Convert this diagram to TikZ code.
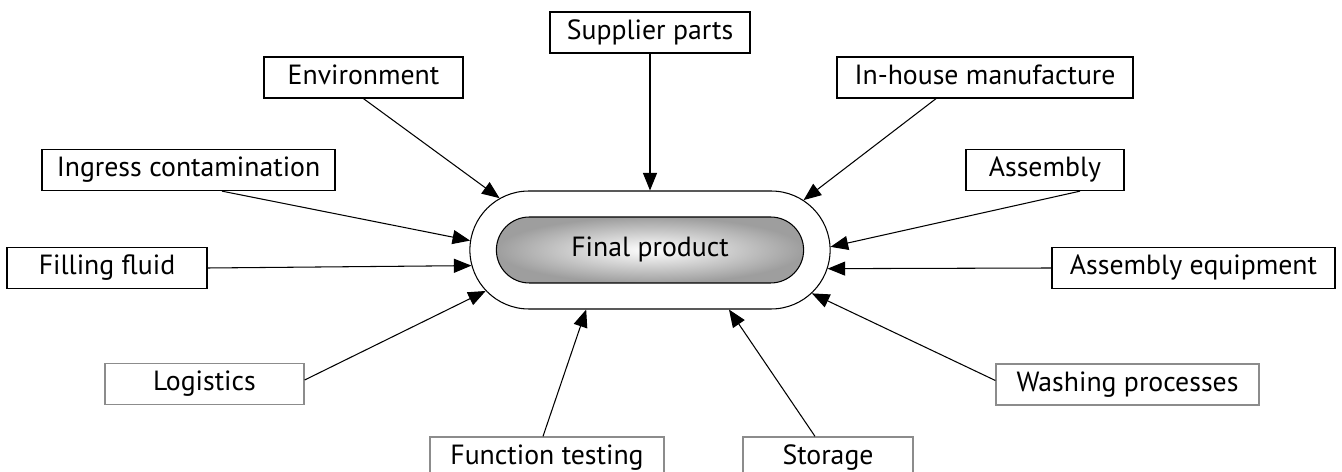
\documentclass[tikz,border=0pt]{standalone}
\usepackage{fontspec}
\newfontfamily\labelfont{PT Sans}
\usetikzlibrary{arrows.meta}
\usetikzlibrary{calc, shapes.misc}
\definecolor{framegray}{RGB}{140,140,140}

\tikzset{
  box/.style={draw, line width=0.75pt, inner sep=0pt, minimum height=0.82cm,
    text height=0.88em, text depth=0.12em,
    font=\labelfont\fontsize{15.8}{18}\selectfont},
  softbox/.style={box, draw=framegray},
  feed/.style={-{Triangle[length=10pt,width=8pt]}, line width=0.6pt},
}

\begin{document}
\begin{tikzpicture}[x=0.02cm, y=-0.02cm]

\useasboundingbox (0,0) rectangle (1342,472);

%product in the middle
\node[rounded rectangle, draw, line width=0.6pt, minimum width=7.44cm, minimum height=2.36cm] (ring) at (650,250) {};
\node[rounded rectangle, draw, line width=0.6pt, inner color=white, outer color=black!38,
  minimum width=6.38cm, minimum height=1.32cm, text height=0.88em, text depth=0.12em,
  font=\labelfont\fontsize{15.8}{18}\selectfont] (prod) at (650,250) {Final product};

%sources:
\node[box, minimum width=4.00cm] (sup) at (650,32.5) {Supplier parts};
\node[box, minimum width=3.98cm] (env) at (363.5,77.5) {Environment};
\node[box, minimum width=5.92cm] (inh) at (985,77.5) {In-house manufacture};
\node[box, minimum width=5.86cm] (ing) at (188.5,170) {Ingress contamination};
\node[box, minimum width=3.16cm] (asm) at (1045,170) {Assembly};
\node[box, minimum width=4.00cm] (fill) at (107,268) {Filling fluid};
\node[box, minimum width=5.66cm] (asmeq) at (1193.5,268) {Assembly equipment};
\node[softbox, minimum width=3.98cm] (log) at (204.5,384) {Logistics};
\node[softbox, minimum width=5.26cm] (wash) at (1127.5,384.5) {Washing processes};
\node[softbox, minimum width=4.68cm] (func) at (547,457.5) {Function testing};
\node[softbox, minimum width=3.40cm] (stor) at (828,457.5) {Storage};

%arrows onto the product
\draw[feed] (sup) -- (ring.90);
\draw[feed] (env.south) -- (ring.161.3);
\draw[feed] ($(inh.south)+(-49,0)$) -- (ring.18.7);
\draw[feed] ($(ing.south)+(33.5,0)$) -- (ring.177.8);
\draw[feed] ($(asm.south)+(35,0)$) -- (ring.1.2);
\draw[feed] (fill.east) -- (ring.185.6);
\draw[feed] (asmeq.west) -- (ring.354.5);
\draw[feed] ($(log.east)+(0,-4)$) -- (ring.194.3);
\draw[feed] ($(wash.west)+(0,-4)$) -- (ring.345.9);
\draw[feed] ($(func.north)+(-4,0)$) -- (ring.223.6);
\draw[feed] ($(stor.north)+(-13,0)$) -- (ring.323.6);

\end{tikzpicture}
\end{document}
